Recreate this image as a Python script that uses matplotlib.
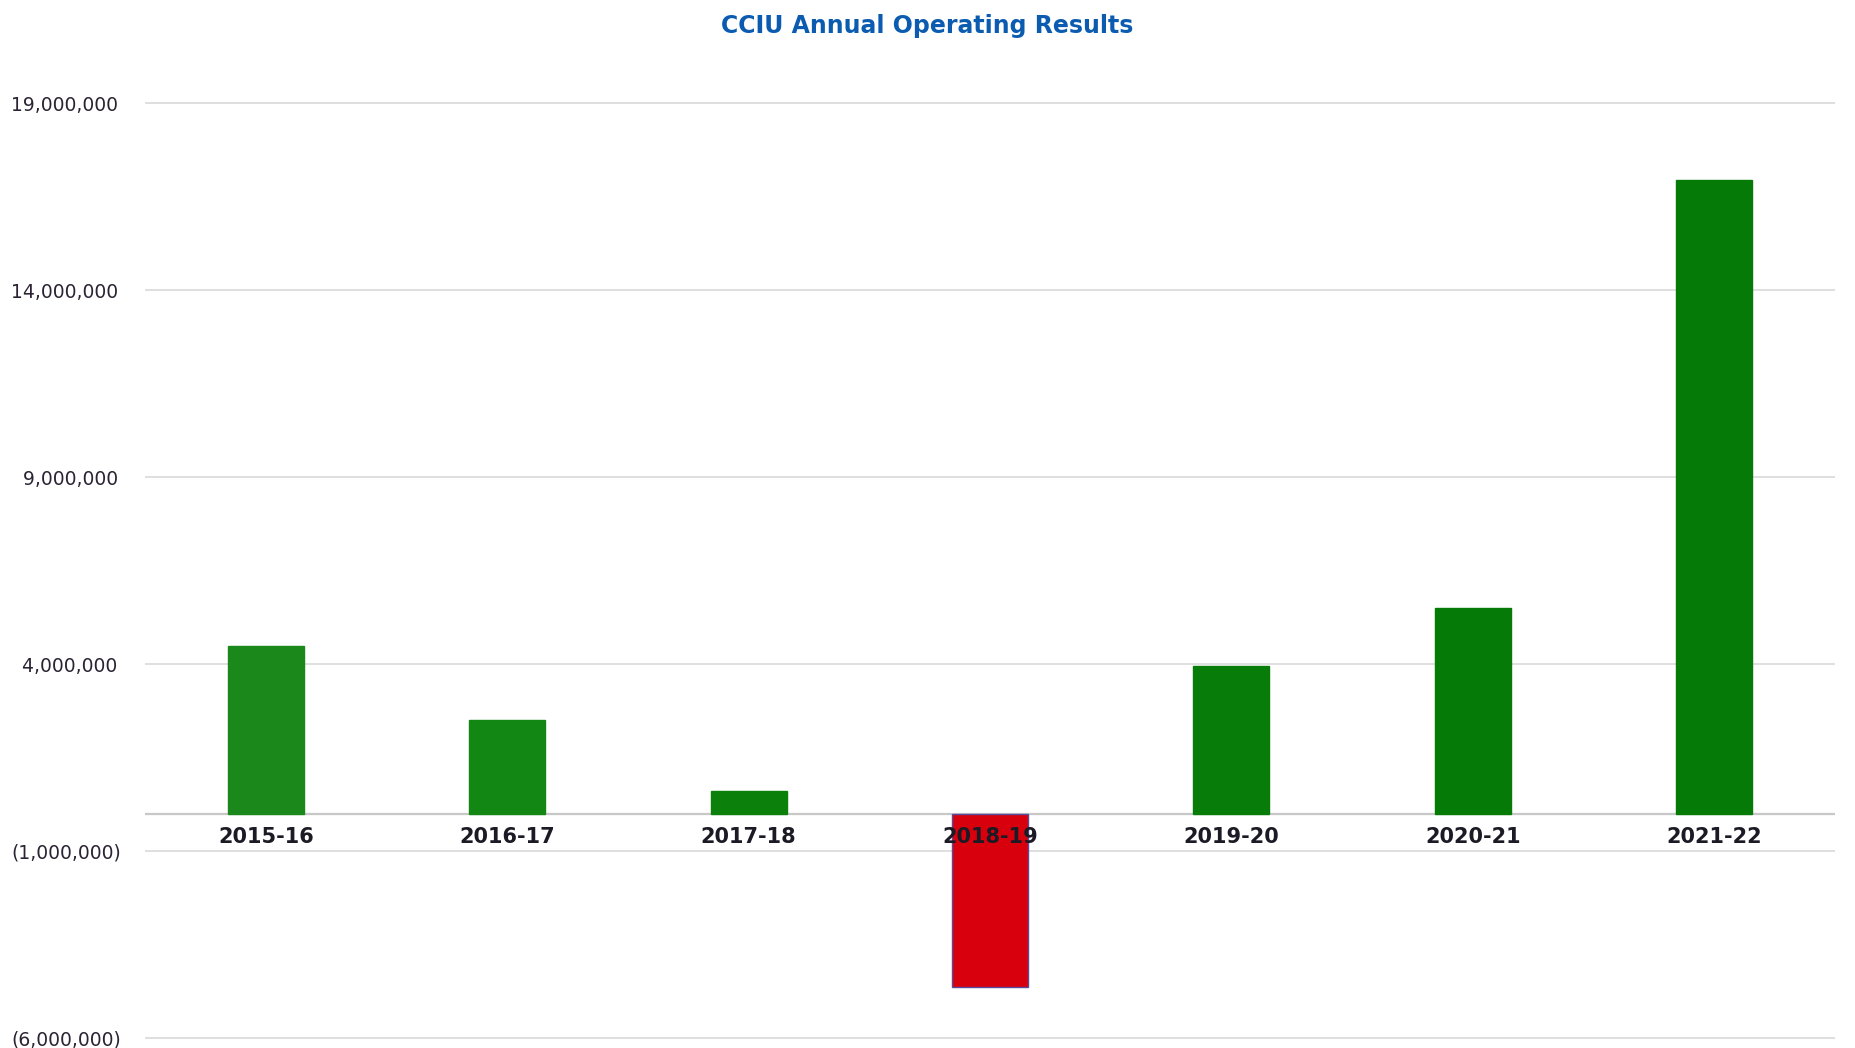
import matplotlib
matplotlib.use("Agg")
import matplotlib.pyplot as plt
from matplotlib.ticker import FuncFormatter

years = ["2015-16", "2016-17", "2017-18", "2018-19", "2019-20", "2020-21", "2021-22"]
results = [4_470_000, 2_510_000, 610_000, -4_650_000, 3_940_000, 5_510_000, 16_930_000]
bar_colors = ["#1b881b", "#138713", "#0b800b", "#d9000d", "#087c08", "#067a06", "#067a06"]
y_ticks = [-6_000_000, -1_000_000, 4_000_000, 9_000_000, 14_000_000, 19_000_000]

plt.rcParams["font.family"] = ["DejaVu Sans"]

fig = plt.figure(figsize=(18.55, 10.48), dpi=100)
ax = fig.add_axes([0.0782, 0.006, 0.911, 0.8992])

for i, (val, col) in enumerate(zip(results, bar_colors)):
    edge = "#5a4a9a" if val < 0 else col
    ax.bar(i, val, width=0.315, color=col, edgecolor=edge, linewidth=1.0, zorder=2)

# category names sit just under the zero line, on top of the bars
for i, name in enumerate(years):
    ax.annotate(name, (i, 0), xytext=(0, -16.5), textcoords="offset points",
                ha="center", va="center", fontsize=15, fontweight="bold",
                color="#1c1a24", zorder=5)

ax.axhline(0, color="#c8c8c8", linewidth=1.6, zorder=1)

ax.set_xlim(-0.5, 6.5)
ax.set_ylim(-6_100_000, 19_100_000)
ax.set_yticks(y_ticks)


def money(v, _pos):
    if v < 0:
        return f"({abs(v):,.0f})"
    return f"{v:,.0f}\u2009"


ax.yaxis.set_major_formatter(FuncFormatter(money))
ax.tick_params(axis="y", length=0, pad=17, labelsize=13.5, labelcolor="#2b2333")
ax.set_xticks([])
ax.grid(axis="y", color="#dcdcdc", linewidth=1.3, zorder=0)
ax.set_axisbelow(True)
for side in ["top", "right", "left", "bottom"]:
    ax.spines[side].set_visible(False)

fig.text(0.5, 0.975, "CCIU Annual Operating Results", ha="center", va="center",
         fontsize=17, fontweight="bold", color="#0b5cb0")

fig.savefig("out.png", dpi=100, facecolor="white")
